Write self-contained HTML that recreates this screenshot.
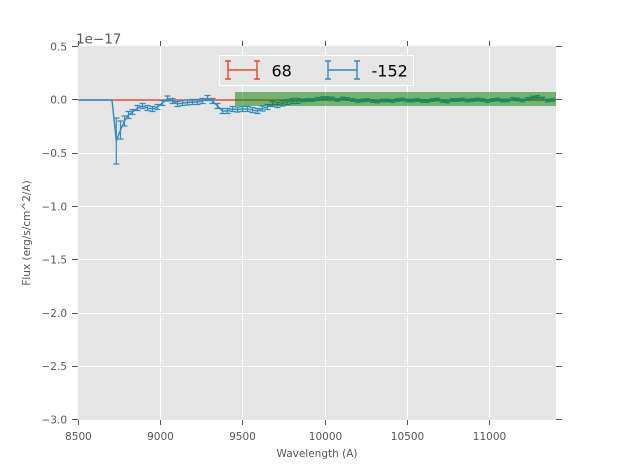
<!DOCTYPE html>
<html><head><meta charset="utf-8"><style>
html,body{margin:0;padding:0;background:#fff;}
svg{display:block;font-family:"DejaVu Sans","Liberation Sans",sans-serif;}
</style></head><body>
<svg width="617" height="467" viewBox="0 0 617 467" xmlns="http://www.w3.org/2000/svg">
<defs>
<path id="e25" d="M0 -2.5V2.5M-3 -2.5H3M-3 2.5H3" stroke="#348ABD" stroke-width="1.2" fill="none"/>
<path id="e15" d="M0 -1.3V1.3M-2.6 -1.3H2.6M-2.6 1.3H2.6" stroke="#348ABD" stroke-width="1.1" fill="none"/>
</defs>
<rect x="0" y="0" width="617" height="467" fill="#fff"/>
<rect x="78" y="46" width="478" height="374" fill="#E5E5E5"/>
<g stroke="#fff" stroke-width="1">
<line x1="160.5" y1="46" x2="160.5" y2="420"/>
<line x1="242.5" y1="46" x2="242.5" y2="420"/>
<line x1="325.5" y1="46" x2="325.5" y2="420"/>
<line x1="407.5" y1="46" x2="407.5" y2="420"/>
<line x1="489.5" y1="46" x2="489.5" y2="420"/>
<line x1="78" y1="99.5" x2="556" y2="99.5"/>
<line x1="78" y1="153.5" x2="556" y2="153.5"/>
<line x1="78" y1="206.5" x2="556" y2="206.5"/>
<line x1="78" y1="259.5" x2="556" y2="259.5"/>
<line x1="78" y1="313.5" x2="556" y2="313.5"/>
<line x1="78" y1="366.5" x2="556" y2="366.5"/>
</g>
<g stroke="#555" stroke-width="1">
<path d="M78.5 420V425M160.5 420V425M242.5 420V425M325.5 420V425M407.5 420V425M489.5 420V425"/>
<path d="M78.5 46V41M160.5 46V41M242.5 46V41M325.5 46V41M407.5 46V41M489.5 46V41"/>
<path d="M78 46.5H72M78 99.5H72M78 153.5H72M78 206.5H72M78 259.5H72M78 313.5H72M78 366.5H72M78 419.5H72"/>
<path d="M556 46.5H562M556 99.5H562M556 153.5H562M556 206.5H562M556 259.5H562M556 313.5H562M556 366.5H562M556 419.5H562"/>
</g>
<g fill="#555" font-size="10.5" text-anchor="end">
<text x="67" y="50.5">0.5</text>
<text x="67" y="103.5">0.0</text>
<text x="67" y="157">−0.5</text>
<text x="67" y="210.5">−1.0</text>
<text x="67" y="263.5">−1.5</text>
<text x="67" y="317">−2.0</text>
<text x="67" y="370">−2.5</text>
<text x="67" y="423.5">−3.0</text>
</g>
<g fill="#555" font-size="10.5" text-anchor="middle">
<text x="78.5" y="440">8500</text>
<text x="160.5" y="440">9000</text>
<text x="242.5" y="440">9500</text>
<text x="325.5" y="440">10000</text>
<text x="407.5" y="440">10500</text>
<text x="489.5" y="440">11000</text>
<text x="317" y="457">Wavelength (A)</text>
</g>
<text x="30" y="233" fill="#555" font-size="10.5" text-anchor="middle" transform="rotate(-90 30 233)">Flux (erg/s/cm^2/A)</text>
<text x="76" y="43.5" fill="#555" font-size="13.5">1e−17</text>

<line x1="78.3" y1="100" x2="556" y2="100" stroke="#E24A33" stroke-width="1.6"/>

<polyline fill="none" stroke="#348ABD" stroke-width="1.4" stroke-linejoin="round" points="
78.3,100 112,100 116.3,141 120.5,130 124.5,121 128.5,115 132.5,112 137.5,108 142.5,106 147.5,108 152.5,109 157.5,107 162.5,103 167.5,98.5 172.5,101 177.5,104 182.5,103 187.5,102.5 192.5,102 197.5,102 202.5,101 207.5,98 212.5,101 217.5,106 222.5,111 227.5,111 232.5,109 237.5,109.5 242.5,109 247.5,109 252.5,110 257.5,111 262.5,108.5 267.5,107 272.5,104 277.5,105 282.5,103.5 287.5,102 292.5,101 297.5,101 302.5,100.5 307.5,100 312.5,100 317.5,99 322.5,98 327.5,98 332.5,98.5 337.5,100 342.5,98.5 347.5,99 352.5,100 357.5,101 362.5,100.5 367.5,100 372.5,101 377.5,101.5 382.5,100.5 387.5,100.5 392.5,101 397.5,100 402.5,99.5 407.5,100.5 412.5,100.5 417.5,100 422.5,101 427.5,101 432.5,100 437.5,99.5 442.5,101 447.5,101.5 452.5,100 457.5,100 462.5,99.5 467.5,100.5 472.5,100 477.5,99.5 482.5,100 487.5,101 492.5,100 497.5,99.5 502.5,100.5 507.5,100.5 512.5,99 517.5,99.5 522.5,100.5 527.5,99 532.5,97.5 537.5,97 542.5,98.5 547.5,100.5 552.5,100"/>
<path fill="none" stroke="#348ABD" stroke-width="1.2" d="M116.3 118V164M113.3 118H119.3M113.3 164H119.3M120.5 121V139M117.5 121H123.5M117.5 139H123.5M124.5 116V126M121.5 116H127.5M121.5 126H127.5M128.5 111.5V118.5M125.5 111.5H131.5M125.5 118.5H131.5"/>
<g>
<use href="#e25" x="132.5" y="112"/><use href="#e25" x="137.5" y="108"/><use href="#e25" x="142.5" y="106"/><use href="#e25" x="147.5" y="108"/><use href="#e25" x="152.5" y="109"/><use href="#e25" x="157.5" y="107"/><use href="#e25" x="162.5" y="103"/><use href="#e25" x="167.5" y="98.5"/><use href="#e25" x="172.5" y="101"/><use href="#e25" x="177.5" y="104"/><use href="#e25" x="182.5" y="103"/><use href="#e25" x="187.5" y="102.5"/><use href="#e25" x="192.5" y="102"/><use href="#e25" x="197.5" y="102"/><use href="#e25" x="202.5" y="101"/><use href="#e25" x="207.5" y="98"/><use href="#e25" x="212.5" y="101"/><use href="#e25" x="217.5" y="106"/><use href="#e25" x="222.5" y="111"/><use href="#e25" x="227.5" y="111"/><use href="#e25" x="232.5" y="109"/><use href="#e25" x="237.5" y="109.5"/><use href="#e25" x="242.5" y="109"/><use href="#e25" x="247.5" y="109"/><use href="#e25" x="252.5" y="110"/><use href="#e25" x="257.5" y="111"/><use href="#e25" x="262.5" y="108.5"/><use href="#e25" x="267.5" y="107"/><use href="#e25" x="272.5" y="104"/><use href="#e25" x="277.5" y="105"/><use href="#e25" x="282.5" y="103.5"/><use href="#e25" x="287.5" y="102"/><use href="#e25" x="292.5" y="101"/><use href="#e25" x="297.5" y="101"/>
<use href="#e15" x="302.5" y="100.5"/><use href="#e15" x="307.5" y="100"/><use href="#e15" x="312.5" y="100"/><use href="#e15" x="317.5" y="99"/><use href="#e15" x="322.5" y="98"/><use href="#e15" x="327.5" y="98"/><use href="#e15" x="332.5" y="98.5"/><use href="#e15" x="337.5" y="100"/><use href="#e15" x="342.5" y="98.5"/><use href="#e15" x="347.5" y="99"/><use href="#e15" x="352.5" y="100"/><use href="#e15" x="357.5" y="101"/><use href="#e15" x="362.5" y="100.5"/><use href="#e15" x="367.5" y="100"/><use href="#e15" x="372.5" y="101"/><use href="#e15" x="377.5" y="101.5"/><use href="#e15" x="382.5" y="100.5"/><use href="#e15" x="387.5" y="100.5"/><use href="#e15" x="392.5" y="101"/><use href="#e15" x="397.5" y="100"/><use href="#e15" x="402.5" y="99.5"/><use href="#e15" x="407.5" y="100.5"/><use href="#e15" x="412.5" y="100.5"/><use href="#e15" x="417.5" y="100"/><use href="#e15" x="422.5" y="101"/><use href="#e15" x="427.5" y="101"/><use href="#e15" x="432.5" y="100"/><use href="#e15" x="437.5" y="99.5"/><use href="#e15" x="442.5" y="101"/><use href="#e15" x="447.5" y="101.5"/><use href="#e15" x="452.5" y="100"/><use href="#e15" x="457.5" y="100"/><use href="#e15" x="462.5" y="99.5"/><use href="#e15" x="467.5" y="100.5"/><use href="#e15" x="472.5" y="100"/><use href="#e15" x="477.5" y="99.5"/><use href="#e15" x="482.5" y="100"/><use href="#e15" x="487.5" y="101"/><use href="#e15" x="492.5" y="100"/><use href="#e15" x="497.5" y="99.5"/><use href="#e15" x="502.5" y="100.5"/><use href="#e15" x="507.5" y="100.5"/><use href="#e15" x="512.5" y="99"/><use href="#e15" x="517.5" y="99.5"/><use href="#e15" x="522.5" y="100.5"/><use href="#e15" x="527.5" y="99"/><use href="#e15" x="532.5" y="97.5"/><use href="#e15" x="537.5" y="97"/><use href="#e15" x="542.5" y="98.5"/><use href="#e15" x="547.5" y="100.5"/><use href="#e15" x="552.5" y="100"/>
</g>

<rect x="235" y="92" width="321" height="14" fill="#008000" fill-opacity="0.5"/>

<rect x="219.5" y="55.5" width="194" height="30" fill="#E5E5E5" stroke="#fff" stroke-width="1"/>
<g fill="none" stroke="#E24A33" stroke-width="1.4">
<path d="M228 70H257M228 61V79M257 61V79M225 61H231M225 79H231M254 61H260M254 79H260"/>
</g>
<g fill="none" stroke="#348ABD" stroke-width="1.4">
<path d="M328 70H357M328 61V79M357 61V79M325 61H331M325 79H331M354 61H360M354 79H360"/>
</g>
<text x="271.5" y="76.5" font-size="16" fill="#000">68</text>
<text x="371.5" y="76.5" font-size="16" fill="#000">-152</text>
</svg>
</body></html>
